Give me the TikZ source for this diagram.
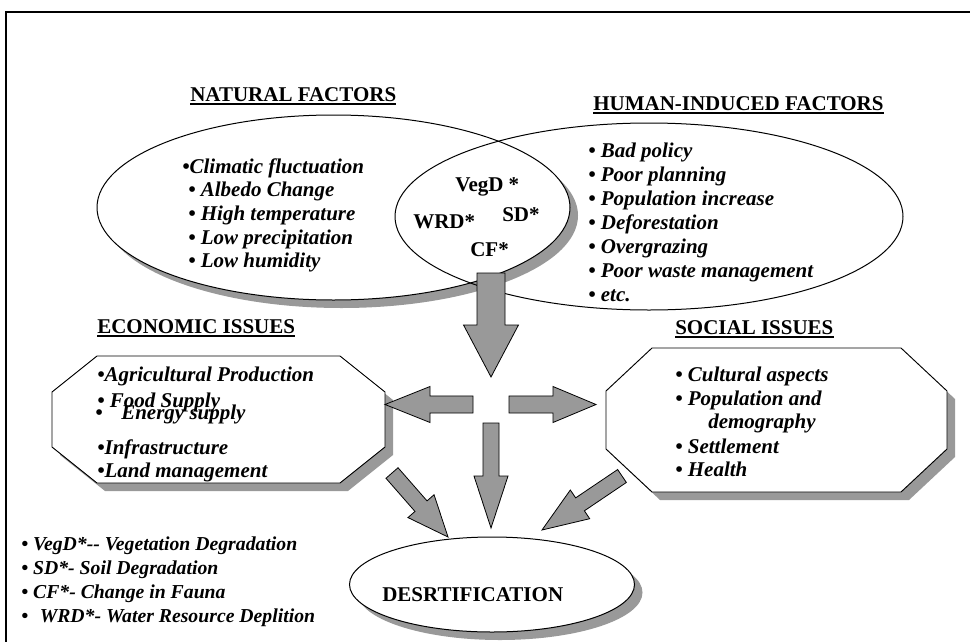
\documentclass[tikz,border=0pt]{standalone}
\usepackage{fontspec}
\setmainfont{Liberation Serif}
\usetikzlibrary{calc,shapes.geometric,shadows}

\newcommand{\blockarrow}[5]{%
  \coordinate (bah) at ($(#2)!#5!(#1)$);
  \draw[barrow] ($(#1)!#3!90:(#2)$) -- ($(bah)!#3!90:(#2)$) -- ($(bah)!#4!90:(#2)$) -- (#2)
     -- ($(bah)!#4!-90:(#2)$) -- ($(bah)!#3!-90:(#2)$) -- ($(#1)!#3!-90:(#2)$) -- cycle;}

\newcommand{\octapath}[6]{({#1+#5},#2) -- ({#3-#5},#2) -- (#3,{#2+#6}) -- (#3,{#4-#6})
  -- ({#3-#5},#4) -- ({#1+#5},#4) -- (#1,{#4-#6}) -- (#1,{#2+#6}) -- cycle}

\begin{document}
\begin{tikzpicture}[x=0.75pt,y=-0.75pt,
  item/.style={font=\fontsize{15.75}{18}\selectfont\bfseries\itshape, inner sep=0, anchor=base west},
  ttl/.style={font=\fontsize{15.75}{18}\selectfont\bfseries, inner sep=0, anchor=base west},
  leg/.style={font=\fontsize{14.8}{18}\selectfont\bfseries\itshape, inner sep=0, anchor=base west},
  barrow/.style={draw=black, line width=0.6pt, fill=black!40, line join=miter},
  shadowc/.style={fill=black!40},
  boxline/.style={draw=black, line width=0.7pt, fill=white},
  uline/.style={line width=1.1pt},
  shad/.style={drop shadow={opacity=1, fill=black!40, shadow xshift=6pt, shadow yshift=-6pt}},
  ell/.style={ellipse, draw, line width=0.75pt, inner sep=0}]

\useasboundingbox (0,0) rectangle (970,642);
\fill[white] (0,0) rectangle (970,642);

% frame
\draw[line width=2.2pt] (970,12) -- (6,12) -- (6,642);

% titles
\node[ttl] (nattitle) at (190,101) {NATURAL FACTORS};
\draw[uline] ([yshift=-2.4pt]nattitle.base west) -- ([yshift=-2.4pt]nattitle.base east);
\node[ttl] (humtitle) at (593,110) {HUMAN-INDUCED FACTORS};
\draw[uline] ([yshift=-2.4pt]humtitle.base west) -- ([yshift=-2.4pt]humtitle.base east);
\node[ttl] (ecotitle) at (97,333) {ECONOMIC ISSUES};
\draw[uline] ([yshift=-2.4pt]ecotitle.base west) -- ([yshift=-2.4pt]ecotitle.base east);
\node[ttl] (soctitle) at (675,334) {SOCIAL ISSUES};
\draw[uline] ([yshift=-2.4pt]soctitle.base west) -- ([yshift=-2.4pt]soctitle.base east);

% overlapping ellipses
\node[ell, fill=white, shad, minimum width=354.75pt, minimum height=138.75pt] (nat) at (333.5,207.5) {};
\node[ell, minimum width=381pt, minimum height=140.25pt] (hum) at (649,216.5) {};

% natural factors
\node[item] (n1) at (182,173) {\textbullet Climatic fluctuation};
\node[item] (n2) at (188,196.7) {\textbullet\ Albedo Change};
\node[item] (n3) at (188,220.4) {\textbullet\ High temperature};
\node[item] (n4) at (188,244) {\textbullet\ Low precipitation};
\node[item] (n5) at (188,267.8) {\textbullet\ Low humidity};

% intersection
\node[ttl] (vegd) at (455,191.7) {VegD *};
\node[ttl] (sd) at (502,221.7) {SD*};
\node[ttl] (wrd) at (413,228) {WRD*};
\node[ttl] (cf) at (470,256.7) {CF*};

% human-induced factors
\node[item] (h1) at (588,157) {\textbullet\ Bad policy};
\node[item] (h2) at (588,181.2) {\textbullet\ Poor planning};
\node[item] (h3) at (588,205.3) {\textbullet\ Population increase};
\node[item] (h4) at (588,229.4) {\textbullet\ Deforestation};
\node[item] (h5) at (588,253.5) {\textbullet\ Overgrazing};
\node[item] (h6) at (588,277.6) {\textbullet\ Poor waste management};
\node[item] (h7) at (588,301.7) {\textbullet\ etc.};

% economic box
\fill[shadowc, shift={(8,8)}] \octapath{52}{356}{385}{483}{45}{36};
\draw[boxline] \octapath{52}{356}{385}{483}{45}{36};
\node[inner sep=0, minimum width=249.75pt, minimum height=95.25pt] (eco) at (218.5,419.5) {};
\node[item] (e1) at (97,381.7) {\textbullet Agricultural Production};
\node[item] (e2) at (97,407.7) {\textbullet\ Food Supply};
\node[item] (e3) at (95,419) {\textbullet\hspace{14pt}Energy supply};
\node[item] (e4) at (97,454) {\textbullet Infrastructure};
\node[item] (e5) at (97,477.7) {\textbullet Land management};

% social box
\fill[shadowc, shift={(8,8)}] \octapath{606}{348}{947}{492}{46}{43};
\draw[boxline] \octapath{606}{348}{947}{492}{46}{43};
\node[inner sep=0, minimum width=255.75pt, minimum height=108pt] (soc) at (776.5,420) {};
\node[item] (s1) at (675,381.7) {\textbullet\ Cultural aspects};
\node[item] (s2) at (675,405) {\textbullet\ Population and};
\node[item] (s3) at (708,428) {demography};
\node[item] (s4) at (675,453) {\textbullet\ Settlement};
\node[item] (s5) at (675,476.7) {\textbullet\ Health};

% desertification
\node[ell, fill=white, shad, minimum width=213.75pt, minimum height=71.25pt] (des) at (492,584.5) {};
\node[ttl] (destext) at (382,601) {DESRTIFICATION};

% legend
\node[leg] (l1) at (21,550) {\textbullet\ VegD*-{}- Vegetation Degradation};
\node[leg] (l2) at (21,574) {\textbullet\ SD*- Soil Degradation};
\node[leg] (l3) at (21,598) {\textbullet\ CF*- Change in Fauna};
\node[leg] (l4) at (21,622.7) {\textbullet\ \hspace{5pt}WRD*- Water Resource Deplition};

% block arrows
\coordinate (a1s) at (491,273); \coordinate (a1t) at (491,377);
\blockarrow{a1s}{a1t}{10.5pt}{20.6pt}{39pt}
\coordinate (a2s) at (473,404.5); \coordinate (a2t) at (385,404.5);
\blockarrow{a2s}{a2t}{6.4pt}{13.5pt}{33.75pt}
\coordinate (a3s) at (509,404.5); \coordinate (a3t) at (596,404.5);
\blockarrow{a3s}{a3t}{6.4pt}{13.5pt}{32.25pt}
\coordinate (a4s) at (491,423); \coordinate (a4t) at (491,528);
\blockarrow{a4s}{a4t}{6pt}{12.75pt}{39pt}
\coordinate (a5s) at (392,473); \coordinate (a5t) at (448,537);
\blockarrow{a5s}{a5t}{6pt}{13pt}{30.75pt}
\coordinate (a6s) at (622,476); \coordinate (a6t) at (542,530);
\blockarrow{a6s}{a6t}{5.85pt}{13pt}{34.4pt}
\end{tikzpicture}
\end{document}
